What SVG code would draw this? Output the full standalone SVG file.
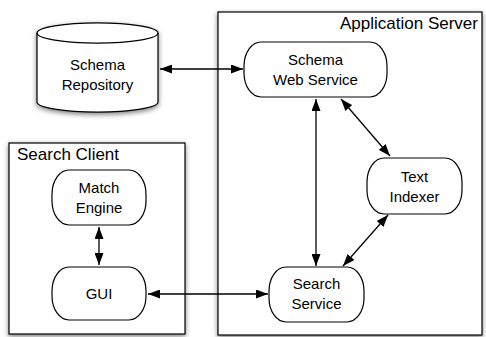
<svg xmlns="http://www.w3.org/2000/svg" width="486" height="337" viewBox="0 0 486 337">
<style>
.box{fill:#fff;stroke:#000;stroke-width:1.2}
.node{fill:#fff;stroke:#000;stroke-width:1.2}
.t{font-family:"Liberation Sans",Arial,sans-serif;font-size:15px;fill:#000;text-anchor:middle}
.lbl{font-family:"Liberation Sans",Arial,sans-serif;font-size:17px;fill:#000}
.c{fill:none;stroke:#000;stroke-width:1.3;marker-start:url(#ah);marker-end:url(#ah)}
</style>
<defs>
<filter id="sh" x="-20%" y="-20%" width="140%" height="150%">
<feDropShadow dx="0" dy="2" stdDeviation="2.5" flood-color="#000" flood-opacity="0.5"/>
</filter>
<marker id="ah" viewBox="0 0 12 9" refX="12" refY="4.5" markerWidth="12" markerHeight="9" markerUnits="userSpaceOnUse" orient="auto-start-reverse">
<path d="M0,0 L12,4.5 L0,9 Z" fill="#000"/>
</marker>
</defs>
<rect width="486" height="337" fill="#fff"/>
<g id="application-server">
<rect class="box" x="218" y="12" width="264" height="323" filter="url(#sh)"/>
<text class="lbl" x="478" y="29" text-anchor="end">Application Server</text>
</g>
<g id="search-client">
<rect class="box" x="9" y="143" width="176" height="191" filter="url(#sh)"/>
<text class="lbl" x="17" y="160">Search Client</text>
</g>
<g id="schema-repository">
<path class="node" filter="url(#sh)" d="M37,33 A60,10 0 0 1 158,33 L158,102 A60,10 0 0 1 37,102 Z"/>
<path d="M37,33 A60,10 0 0 0 158,33" fill="none" stroke="#000" stroke-width="1.2"/>
<text class="t" x="97.5" y="70">Schema</text>
<text class="t" x="97.5" y="90">Repository</text>
</g>
<g id="schema-web-service">
<rect class="node" x="244" y="42" width="143" height="55" rx="17" ry="24"/>
<text class="t" x="315.5" y="65">Schema</text>
<text class="t" x="315.5" y="85">Web Service</text>
</g>
<g id="text-indexer">
<rect class="node" x="367" y="158" width="95" height="56" rx="17" ry="24"/>
<text class="t" x="414.5" y="182">Text</text>
<text class="t" x="414.5" y="202">Indexer</text>
</g>
<g id="search-service">
<rect class="node" x="269" y="267" width="95" height="55" rx="17" ry="24"/>
<text class="t" x="316.5" y="289">Search</text>
<text class="t" x="316.5" y="309">Service</text>
</g>
<g id="match-engine">
<rect class="node" x="52" y="170" width="94" height="55" rx="17" ry="24"/>
<text class="t" x="99" y="193">Match</text>
<text class="t" x="99" y="213">Engine</text>
</g>
<g id="gui">
<rect class="node" x="52" y="267" width="94" height="53" rx="17" ry="24"/>
<text class="t" x="99" y="299">GUI</text>
</g>
<g id="connectors">
<line class="c" x1="160" y1="69" x2="243" y2="69"/>
<line class="c" x1="316" y1="99" x2="316" y2="266"/>
<line class="c" x1="341" y1="99" x2="390" y2="156"/>
<line class="c" x1="388" y1="215" x2="343" y2="266"/>
<line class="c" x1="99" y1="227" x2="99" y2="265"/>
<line class="c" x1="148" y1="294" x2="268" y2="294"/>
</g>
</svg>
